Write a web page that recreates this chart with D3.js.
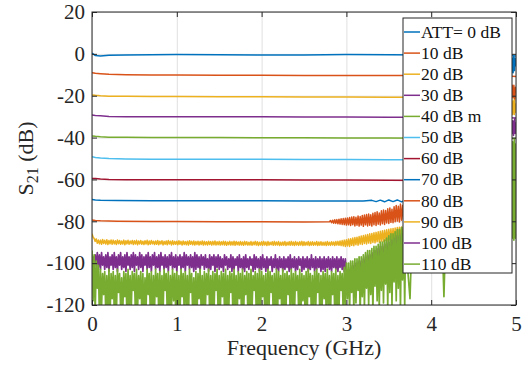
<!DOCTYPE html>
<html>
<head>
<meta charset="utf-8">
<script src="https://cdn.jsdelivr.net/npm/d3@7"></script>
<style>
  body { margin: 0; background: #fff; }
  svg, svg text { font-family: "Liberation Serif", "Times New Roman", Times, "DejaVu Serif", serif; }
</style>
</head>
<body>
<svg id="chart" width="525" height="367"></svg>
<script>
// legend text as printed on the figure
const legendLabels = ["ATT= 0 dB", "10 dB", "20 dB", "30 dB", "40 dB m", "50 dB",
  "60 dB", "70 dB", "80 dB", "90 dB", "100 dB", "110 dB"];
const xTicks = [0, 1, 2, 3, 4, 5];
const yTicks = [20, 0, -20, -40, -60, -80, -100, -120];
const lineColors = ["#0072BD", "#D95319", "#EDB120", "#7E2F8E", "#77AC30", "#4DBEEE", "#A2142F"];

// flat traces (GHz / dB)
const freqFlat = [0, 0.04, 0.1, 0.2, 0.4, 0.7, 1.0, 1.5, 2.0, 2.5, 3.0, 3.5, 4.0, 4.5, 4.9, 5.0];
const att0  = [0.4, -0.8, -1.0, -0.7, -0.5, -0.4, -0.3, -0.4, -0.6, -0.5, -0.3, -0.4, -0.5, -0.6, -0.8, -1.0];
const att10 = [-9.0, -9.3, -9.5, -9.8, -10.0, -10.1, -10.1, -10.2, -10.2, -10.3, -10.3, -10.4, -10.4, -10.5, -10.6, -10.8];
const att20 = [-19.6, -19.8, -20.0, -20.2, -20.3, -20.4, -20.4, -20.5, -20.5, -20.6, -20.6, -20.7, -20.7, -20.8, -20.9, -21.0];
const att30 = [-29.2, -29.4, -29.6, -29.9, -30.0, -30.1, -30.1, -30.0, -30.1, -30.2, -30.2, -30.3, -30.3, -30.4, -30.5, -30.6];
const att40 = [-39.2, -39.4, -39.6, -39.8, -39.9, -40.0, -40.0, -40.0, -40.1, -40.1, -40.2, -40.2, -40.3, -40.3, -40.4, -40.5];
const att50 = [-49.1, -49.5, -49.8, -50.0, -50.2, -50.3, -50.4, -50.4, -50.4, -50.5, -50.5, -50.6, -50.6, -50.7, -50.8, -50.9];
const att60 = [-59.5, -59.6, -59.8, -60.0, -60.1, -60.2, -60.2, -60.1, -60.2, -60.3, -60.3, -60.4, -60.5, -60.6, -60.7, -60.8];

const freq70 = [0, 0.04, 0.1, 0.3, 0.7, 1.0, 1.5, 2.0, 2.5, 3.0,
  3.2, 3.3, 3.35, 3.4, 3.45, 3.5, 3.55, 3.6, 3.65, 3.7,
  4.0, 4.5, 4.88, 4.91, 4.94, 4.958, 4.966, 4.974, 4.982, 4.99, 5.0];
const att70 = [-69.6, -69.8, -70.0, -70.1, -70.2, -70.2, -70.2, -70.2, -70.3, -70.3,
  -70.3, -70.0, -70.6, -69.9, -70.7, -69.8, -70.6, -69.8, -70.7, -70.0,
  -70.2, -70.4, -70.5, -45, -15, -2, -9, -1, -8, -2, -6];

// 80 dB: flat part, 12.5 MHz steps from 2.8 to 3.7 GHz, then the rest
const freq80 = [0, 0.04, 0.1, 0.3, 0.7, 1.0, 1.5, 2.0, 2.5]
  .concat(d3.range(73).map(i => 2.8 + i * 0.0125))
  .concat([3.9, 4.2, 4.5, 4.85, 4.9, 4.93, 4.955, 4.965, 4.975, 4.985, 4.995, 5.0]);
const att80 = [-79.4, -79.6, -79.8, -80.0, -80.1, -80.1, -80.2, -80.2, -80.3,
  -80.2, -79.6, -80.7, -79.5, -80.9, -79.3, -81.0, -79.2, -81.2, -79.0,
  -81.3, -78.8, -81.5, -78.7, -81.6, -78.5, -81.8, -78.4, -81.7, -78.2,
  -82.0, -78.0, -81.6, -77.8, -82.2, -78.1, -81.9, -77.5, -82.3, -77.7,
  -81.8, -77.2, -82.4, -77.0, -81.7, -76.8, -82.2, -76.5, -81.9, -76.9,
  -82.3, -76.2, -81.6, -75.8, -82.0, -75.5, -81.4, -76.0, -81.8, -75.0,
  -81.2, -74.6, -81.5, -74.9, -80.8, -74.0, -81.0, -73.6, -80.5, -74.2,
  -80.7, -73.0, -80.2, -72.4, -79.9, -72.8, -80.3, -71.8, -79.5, -72.5,
  -79.2, -73.0, -78.6,
  -76, -75, -74, -74, -50, -25, -15, -21, -15, -22, -16, -19];

// noisy traces: 12.5 MHz steps to 3.6875 GHz, 25 MHz to 4.875 GHz (behind the legend), then points near 5 GHz
const freqFine = d3.range(296).map(i => i * 0.0125);
const freqCoarse = d3.range(48).map(i => 3.7 + i * 0.025);
const freqTail = [4.9, 4.92, 4.94, 4.955, 4.96, 4.965, 4.97, 4.975, 4.98, 4.985, 4.99, 4.995, 5.0];
const freqNoise = freqFine.concat(freqCoarse, freqTail);

const att90 = [
  -86.0, -87.5, -88.2, -89.6, -88.4, -90.5, -88.9, -90.8, -89.0, -91.0, -88.7, -90.6, -89.1, -90.9, -88.8, -91.1, -89.2, -90.7, -88.9, -91.0,
  -89.0, -90.8, -89.3, -91.1, -88.9, -90.7, -89.2, -91.0, -89.4, -90.9, -89.0, -91.2, -89.3, -90.8, -89.1, -91.0, -89.4, -90.7, -89.2, -91.1,
  -89.3, -90.9, -89.1, -91.2, -89.4, -90.8, -89.2, -91.0, -89.5, -91.1, -89.3, -90.9, -89.1, -91.2, -89.4, -91.0, -89.2, -90.8, -89.5, -91.1,
  -89.4, -91.0, -89.2, -91.2, -89.5, -90.9, -89.3, -91.3, -89.6, -91.0, -89.4, -91.2, -89.2, -90.9, -89.5, -91.3, -89.3, -91.1, -89.6, -91.0,
  -89.5, -91.2, -89.3, -91.0, -89.6, -91.3, -89.4, -91.1, -89.7, -91.2, -89.5, -91.4, -89.3, -91.0, -89.6, -91.2, -89.4, -91.3, -89.7, -91.1,
  -89.5, -91.3, -89.7, -91.1, -89.4, -91.4, -89.6, -91.2, -89.8, -91.3, -89.5, -91.1, -89.7, -91.4, -89.6, -91.2, -89.4, -91.3, -89.8, -91.2,
  -89.6, -91.4, -89.8, -91.2, -89.5, -91.3, -89.7, -91.5, -89.9, -91.2, -89.6, -91.4, -89.8, -91.3, -89.5, -91.5, -89.7, -91.2, -89.9, -91.4,
  -89.7, -91.3, -89.9, -91.5, -89.6, -91.2, -89.8, -91.4, -90.0, -91.3, -89.7, -91.5, -89.9, -91.2, -89.6, -91.4, -89.8, -91.6, -90.0, -91.3,
  -89.8, -91.5, -89.6, -91.3, -89.9, -91.6, -89.7, -91.4, -90.0, -91.2, -89.8, -91.5, -89.6, -91.4, -89.9, -91.3, -89.7, -91.6, -90.0, -91.4,
  -89.9, -91.4, -89.7, -91.6, -90.0, -91.3, -89.8, -91.5, -89.6, -91.4, -89.9, -91.6, -89.7, -91.3, -90.0, -91.5, -89.8, -91.4, -89.6, -91.6,
  -89.8, -91.5, -90.0, -91.3, -89.7, -91.6, -89.9, -91.4, -89.8, -91.5, -90.0, -91.3, -89.7, -91.6, -89.9, -91.4, -89.8, -91.5, -90.0, -91.4,
  -89.9, -91.6, -89.7, -91.4, -90.0, -91.5, -89.8, -91.3, -89.9, -91.6, -89.7, -91.4, -89.6, -91.5, -89.4, -91.6, -89.2, -91.8, -89.0, -92.0,
  -88.8, -91.8, -88.5, -92.0, -88.3, -91.5, -88.0, -91.7, -87.8, -91.2, -87.6, -91.4, -87.3, -90.9, -87.0, -91.1, -86.8, -90.6, -86.5, -90.8,
  -86.3, -90.4, -86.0, -90.6, -85.8, -90.1, -85.5, -90.3, -85.3, -89.8, -85.0, -90.0, -84.8, -89.5, -84.5, -89.7, -84.3, -89.2, -84.0, -89.4,
  -83.8, -88.9, -83.6, -89.1, -83.4, -88.6, -83.2, -88.8, -83.0, -88.3, -82.8, -88.5, -82.7, -88.0, -82.5, -88.2,
  // 3.7 – 4.875 GHz
  -83.0, -87.4, -83.2, -87.0, -82.8, -87.2, -83.0, -86.8, -82.6, -87.0, -83.0, -86.9,
  -82.7, -87.1, -83.1, -86.8, -82.9, -87.0, -82.6, -86.7, -83.0, -87.2, -82.8, -86.9, -83.1, -87.0, -82.7, -86.8, -83.0, -87.1, -82.8, -86.9,
  -83.0, -87.0, -82.7, -86.8, -83.1, -87.1, -82.9, -86.9, -82.7, -87.0, -83.0, -86.8, -82.8, -86.0, -82.0, -84.0,
  // near 5 GHz
  -75, -50, -30, -23, -29, -22, -28, -23, -29, -22, -28, -24, -27];

const att100 = [
  -99, -97, -100, -96, -101, -95, -102, -96, -103, -95, -101, -97, -103, -96, -102, -95, -104, -97, -101, -96,
  -103, -95, -102, -97, -104, -96, -101, -95, -103, -97, -102, -96, -104, -95, -101, -97, -103, -96, -102, -95,
  -104, -96, -101, -97, -103, -95, -102, -96, -104, -97, -101, -96, -103, -95, -102, -97, -104, -96, -101, -95,
  -103, -97, -102, -96, -104, -95, -101, -97, -103, -96, -102, -97, -104, -96, -101, -95, -103, -97, -102, -96,
  -104, -97, -101, -96, -103, -97, -102, -95, -104, -96, -101, -97, -103, -96, -102, -97, -104, -95, -103, -96,
  -102, -97, -104, -96, -101, -97, -103, -96, -102, -98, -104, -96, -103, -97, -101, -96, -104, -97, -102, -96,
  -103, -97, -102, -98, -104, -96, -101, -97, -103, -98, -102, -96, -104, -97, -103, -98, -101, -97, -104, -96,
  -102, -98, -103, -97, -104, -96, -102, -98, -103, -97, -101, -98, -104, -96, -103, -97, -102, -98, -104, -97,
  -103, -96, -102, -98, -104, -97, -103, -98, -101, -97, -104, -98, -102, -96, -103, -98, -104, -97, -102, -98,
  -104, -97, -103, -98, -102, -97, -104, -96, -103, -98, -102, -97, -104, -98, -103, -97, -101, -98, -104, -97,
  -103, -98, -102, -97, -104, -98, -103, -96, -102, -98, -104, -97, -103, -98, -102, -97, -104, -98, -103, -97,
  -104, -98, -102, -97, -103, -98, -104, -97, -102, -98, -103, -97, -104, -98, -102, -97, -103, -98, -104, -98,
  -104, -108, -103, -109, -102, -107, -101, -108, -100, -106, -100, -107, -99, -105, -99, -106, -98, -104, -97, -105,
  -96, -103, -96, -104, -95, -102, -94, -103, -94, -101, -93, -102, -92, -100, -92, -101, -91, -99, -90, -100,
  -90, -98, -89, -99, -89, -97, -88, -98, -87, -96, -87, -97, -86, -95, -86, -96,
  // 3.7 – 4.875 GHz
  -88, -94, -88, -93, -87, -94, -88, -93, -87, -92, -88, -93,
  -88, -93, -87, -92, -88, -94, -87, -93, -88, -92, -87, -93, -88, -94, -87, -92, -88, -93, -87, -92,
  -88, -93, -87, -92, -88, -94, -87, -93, -88, -92, -87, -93, -88, -94, -87, -90,
  // near 5 GHz
  -80, -55, -38, -32, -38, -33, -39, -32, -37, -31, -38, -33, -36];

const att110 = [
  -94, -118, -96, -124, -99, -112, -101, -125, -103, -121, -105, -115, -104, -124, -106, -122, -103, -126, -105, -117,
  -104, -123, -106, -125, -103, -114, -105, -122, -107, -124, -104, -116, -105, -126, -103, -121, -106, -123, -104, -113,
  -105, -125, -103, -122, -106, -117, -104, -124, -105, -126, -107, -121, -103, -115, -105, -123, -104, -125, -106, -122,
  -103, -116, -105, -124, -104, -122, -106, -125, -103, -113, -105, -123, -104, -126, -106, -121, -103, -118, -105, -124,
  -104, -122, -106, -125, -103, -116, -105, -123, -104, -121, -106, -126, -103, -114, -105, -124, -107, -122, -104, -125,
  -105, -117, -103, -123, -106, -125, -104, -121, -105, -115, -103, -124, -106, -122, -104, -126, -105, -113, -103, -123,
  -106, -124, -104, -116, -105, -122, -103, -125, -106, -123, -104, -114, -105, -126, -103, -121, -106, -124, -104, -117,
  -105, -123, -103, -125, -106, -115, -104, -122, -105, -126, -103, -121, -106, -113, -104, -124, -105, -122, -103, -125,
  -104, -116, -106, -123, -105, -125, -103, -121, -104, -114, -106, -124, -105, -122, -103, -126, -104, -117, -106, -123,
  -103, -125, -105, -122, -104, -115, -106, -124, -103, -121, -105, -126, -104, -113, -106, -123, -103, -125, -105, -118,
  -106, -122, -104, -124, -103, -116, -105, -125, -106, -121, -104, -123, -103, -114, -105, -126, -106, -122, -104, -117,
  -105, -124, -103, -121, -106, -125, -104, -115, -105, -123, -103, -126, -106, -122, -104, -113, -105, -124, -102, -121,
  -100, -117, -100, -123, -99, -114, -99, -122, -98, -119, -98, -113, -97, -124, -97, -116, -96, -121, -95, -112,
  -94, -120, -94, -115, -93, -123, -92, -111, -92, -118, -91, -122, -90, -113, -90, -119, -89, -110, -88, -121,
  -87, -114, -86, -120, -86, -109, -85, -118, -84, -112, -84, -122, -83, -108, -82, -121,
  // 3.7 – 4.875 GHz
  -81, -104, -117, -84, -100, -82, -98, -83, -97, -81, -99, -80,
  -96, -80, -98, -79, -97, -81, -116, -80, -99, -78, -96, -80, -98, -79, -97, -78, -99, -80, -96, -79,
  -98, -78, -97, -80, -99, -79, -96, -78, -98, -80, -97, -79, -99, -78, -96, -80,
  // near 5 GHz
  -80, -60, -45, -88, -42, -86, -44, -89, -41, -85, -43, -88, -45];

const series = [
  { freq: freqFlat, val: att0 }, { freq: freqFlat, val: att10 },
  { freq: freqFlat, val: att20 }, { freq: freqFlat, val: att30 },
  { freq: freqFlat, val: att40 }, { freq: freqFlat, val: att50 },
  { freq: freqFlat, val: att60 }, { freq: freq70, val: att70 },
  { freq: freq80, val: att80 }, { freq: freqNoise, val: att90 },
  { freq: freqNoise, val: att100 }, { freq: freqNoise, val: att110 }
];
series.forEach((s, i) => {
  s.name = legendLabels[i];
  s.color = lineColors[i % lineColors.length];
  s.width = i >= 10 ? 1.7 : 1.5;
});

const margin = { top: 12, right: 9, bottom: 62, left: 92 };
const width = 525 - margin.left - margin.right;
const height = 367 - margin.top - margin.bottom;
const axisColor = "#262626";
const serif = '"Liberation Serif", "Times New Roman", Times, "DejaVu Serif", serif';

const svg = d3.select("#chart").attr("font-family", serif);
const g = svg.append("g").attr("transform", `translate(${margin.left},${margin.top})`);

const x = d3.scaleLinear().domain([0, 5]).range([0, width]);
const y = d3.scaleLinear().domain([-120, 20]).range([height, 0]);

// grid
g.append("g")
  .attr("transform", `translate(0,${height})`)
  .call(d3.axisBottom(x).tickValues(xTicks).tickSize(-height).tickFormat(""))
  .call(a => a.select(".domain").remove())
  .selectAll("line").attr("stroke", "#e0e0e0");
g.append("g")
  .call(d3.axisLeft(y).tickValues(yTicks).tickSize(-width).tickFormat(""))
  .call(a => a.select(".domain").remove())
  .selectAll("line").attr("stroke", "#e0e0e0");

svg.append("defs").append("clipPath").attr("id", "plotClip")
  .append("rect").attr("width", width).attr("height", height);

const line = d3.line().x(d => x(d[0])).y(d => y(d[1]));

g.append("g").attr("clip-path", "url(#plotClip)")
  .selectAll("path")
  .data(series)
  .enter()
  .append("path")
  .attr("fill", "none")
  .attr("stroke", d => d.color)
  .attr("stroke-width", d => d.width)
  .attr("stroke-linejoin", "round")
  .attr("d", d => line(d3.zip(d.freq, d.val)));

// axes, ticks inside on all four sides
const fmt = d => String(d);
const styleAxis = a => {
  a.select(".domain").remove();
  a.selectAll("line").attr("stroke", axisColor);
  a.selectAll("text").attr("fill", axisColor);
  a.attr("font-family", serif).attr("font-size", 21);
};
g.append("g").attr("transform", `translate(0,${height})`)
  .call(d3.axisBottom(x).tickValues(xTicks).tickSize(-5).tickPadding(11).tickFormat(fmt))
  .call(styleAxis);
g.append("g")
  .call(d3.axisTop(x).tickValues(xTicks).tickSize(-5).tickFormat(""))
  .call(styleAxis);
g.append("g")
  .call(d3.axisLeft(y).tickValues(yTicks).tickSize(-5).tickPadding(7).tickFormat(fmt))
  .call(styleAxis);
g.append("g").attr("transform", `translate(${width},0)`)
  .call(d3.axisRight(y).tickValues(yTicks).tickSize(-5).tickFormat(""))
  .call(styleAxis);

g.append("rect")
  .attr("width", width).attr("height", height)
  .attr("fill", "none").attr("stroke", axisColor).attr("stroke-width", 1);

// legend
const legend = svg.append("g").attr("transform", "translate(403,18)");
legend.append("rect")
  .attr("width", 109).attr("height", 255)
  .attr("fill", "#fff").attr("stroke", axisColor).attr("stroke-width", 1);
const item = legend.selectAll(".item")
  .data(series)
  .enter()
  .append("g")
  .attr("class", "item")
  .attr("transform", (d, i) => `translate(0,${14 + i * 21.1})`);
item.append("line")
  .attr("x1", 1).attr("x2", 17)
  .attr("stroke", d => d.color).attr("stroke-width", 1.5);
item.append("text")
  .attr("x", 18).attr("dy", "0.33em")
  .attr("font-size", 17.5).attr("fill", "#111")
  .text(d => d.name);

// axis labels
svg.append("text")
  .attr("x", margin.left + width / 2).attr("y", 355)
  .attr("text-anchor", "middle").attr("font-size", 22).attr("fill", axisColor)
  .text("Frequency (GHz)");

const yLabel = svg.append("text")
  .attr("transform", `translate(33,${margin.top + height / 2}) rotate(-90)`)
  .attr("text-anchor", "middle").attr("font-size", 22).attr("fill", axisColor);
yLabel.append("tspan").text("S");
yLabel.append("tspan").attr("font-size", 16).attr("dy", 5).text("21");
yLabel.append("tspan").attr("dy", -5).text(" (dB)");

series.forEach(s => {
  if (s.freq.length !== s.val.length) {
    throw new Error(s.name + ": " + s.freq.length + " freq vs " + s.val.length + " values");
  }
});
</script>
</body>
</html>
